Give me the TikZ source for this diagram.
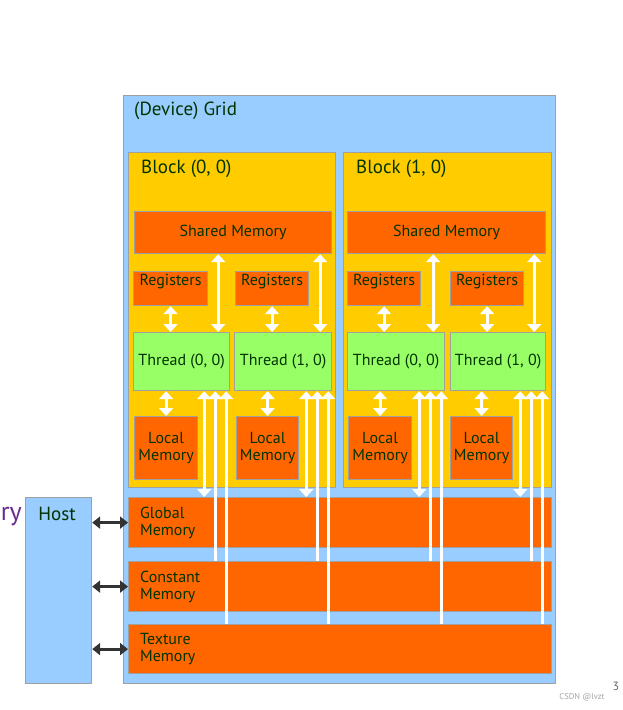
\documentclass[tikz,border=0pt]{standalone}
\usepackage{fontspec}
\setmainfont{PT Sans}
\usetikzlibrary{arrows.meta,calc}
\definecolor{gridblue}{HTML}{99CCFF}
\definecolor{blockyel}{HTML}{FFCC00}
\definecolor{memor}{HTML}{FF6600}
\definecolor{thrgreen}{HTML}{99FF66}
\definecolor{txtgreen}{HTML}{003300}
\definecolor{edgegray}{HTML}{A0A0A0}
\definecolor{hostarr}{HTML}{333333}
\definecolor{slidepurple}{HTML}{6A2C91}
\begin{document}
\begin{tikzpicture}[x=1pt,y=-1pt,
  box/.style={draw=edgegray, line width=1.2pt, anchor=north west, inner sep=0pt, text=txtgreen, align=center},
  gridbox/.style={box, fill=gridblue},
  blockbox/.style={box, fill=blockyel},
  membox/.style={box, fill=memor, font=\fontsize{16}{17}\selectfont},
  thrbox/.style={box, fill=thrgreen, font=\fontsize{16}{17}\selectfont},
  bigtxt/.style={anchor=west, inner sep=0pt, text=txtgreen, font=\fontsize{19}{21}\selectfont},
  smalltxt/.style={inner sep=0pt, text=txtgreen, font=\fontsize{16}{17}\selectfont, align=left},
  warr/.style={draw=white, line width=3pt, {Triangle[width=14pt,length=8pt]}-{Triangle[width=14pt,length=8pt]}},
  wup/.style={draw=white, line width=3pt, {Triangle[width=14pt,length=8pt]}-},
  harr/.style={draw=hostarr, line width=3pt, {Triangle[width=12pt,length=8pt]}-{Triangle[width=12pt,length=8pt]}}
]
\useasboundingbox (0,0) rectangle (623,710);
\fill[white] (0,0) rectangle (623,710);

% left cut-off slide text
\node[anchor=east, inner sep=0pt, text=slidepurple, font=\fontsize{26}{30}\selectfont] (memcut) at (22,517) {ry};

% grid
\node[gridbox, minimum width=432pt, minimum height=588pt] (grid) at (123,95) {};
\node[bigtxt] (gridlbl) at (134,111) {(Device) Grid};

% blocks
\node[blockbox, minimum width=207pt, minimum height=335pt] (b0) at (128,152) {};
\node[blockbox, minimum width=208pt, minimum height=335pt] (b1) at (343,152) {};
\node[bigtxt] (b0lbl) at (141,169) {Block (0, 0)};
\node[bigtxt] (b1lbl) at (356,169) {Block (1, 0)};

% shared memory
\node[membox, minimum width=197pt, minimum height=42pt] (sh0) at (134,211) {Shared Memory};
\node[membox, minimum width=198pt, minimum height=42pt] (sh1) at (347,211) {Shared Memory};

% registers
\node[membox, minimum width=74pt, minimum height=34pt] (r00) at (133,271) {};
\node[membox, minimum width=73pt, minimum height=34pt] (r01) at (235,271) {};
\node[membox, minimum width=73pt, minimum height=34pt] (r10) at (347,271) {};
\node[membox, minimum width=73pt, minimum height=34pt] (r11) at (450,271) {};
\foreach \r in {r00,r01,r10,r11}{
  \node[smalltxt] (\r t) at ([yshift=-11pt]\r.north) {Registers};
}

% threads
\node[thrbox, minimum width=96pt, minimum height=58pt] (t00) at (133,332) {Thread (0, 0)};
\node[thrbox, minimum width=97pt, minimum height=58pt] (t01) at (234,332) {Thread (1, 0)};
\node[thrbox, minimum width=97pt, minimum height=58pt] (t10) at (347,332) {Thread (0, 0)};
\node[thrbox, minimum width=95pt, minimum height=58pt] (t11) at (450,332) {Thread (1, 0)};

% local memory
\node[membox, minimum width=63pt, minimum height=63pt] (l00) at (134,416) {Local\\Memory};
\node[membox, minimum width=62pt, minimum height=63pt] (l01) at (236,416) {Local\\Memory};
\node[membox, minimum width=63pt, minimum height=63pt] (l10) at (348,416) {Local\\Memory};
\node[membox, minimum width=62pt, minimum height=63pt] (l11) at (450,416) {Local\\Memory};

% device memories
\node[membox, minimum width=423pt, minimum height=50pt] (glob) at (128,497) {};
\node[membox, minimum width=423pt, minimum height=50pt] (cons) at (128,561) {};
\node[membox, minimum width=423pt, minimum height=49pt] (tex) at (128,624) {};
\node[smalltxt, anchor=west] (globt) at ([xshift=12pt]glob.west) {Global\\Memory};
\node[smalltxt, anchor=west] (const) at ([xshift=12pt]cons.west) {Constant\\Memory};
\node[smalltxt, anchor=west] (text) at ([xshift=12pt]tex.west) {Texture\\Memory};

% host
\node[gridbox, minimum width=66pt, minimum height=186pt] (host) at (25,497) {};
\node[bigtxt, anchor=center] (hostlbl) at (57,514) {Host};

% host arrows
\draw[harr] (host.east |- glob.west) -- (glob.west);
\draw[harr] (host.east |- cons.west) -- (cons.west);
\draw[harr] (host.east |- tex.west) -- (tex.west);

% white arrows inside blocks
\foreach \r/\t/\s/\l in {r00/t00/sh0/l00, r01/t01/sh0/l01, r10/t10/sh1/l10, r11/t11/sh1/l11}{
  \draw[warr] (\r.south) -- (\r.south |- \t.north);
  \draw[warr] ([xshift=-12pt]\t.north east) -- ([xshift=-12pt]\t.north east |- \s.south);
  \draw[warr] (\l.north) -- (\l.north |- \t.south);
  \draw[warr] ([xshift=-26pt]\t.south east) -- ([xshift=-26pt]\t.south east |- glob.north);
  \draw[wup] ([xshift=-15pt]\t.south east) -- ([xshift=-15pt]\t.south east |- cons.north);
  \draw[wup] ([xshift=-4pt]\t.south east) -- ([xshift=-4pt]\t.south east |- tex.north);
}

% page number and watermark
\node[inner sep=0pt, text=black!60, font=\fontsize{12}{14}\selectfont] (pageno) at (616,686) {3};
\node[inner sep=0pt, text=black!35, font=\fontsize{8.5}{10}\selectfont] (wm) at (582,697) {CSDN @lvzt};
\end{tikzpicture}
\end{document}
